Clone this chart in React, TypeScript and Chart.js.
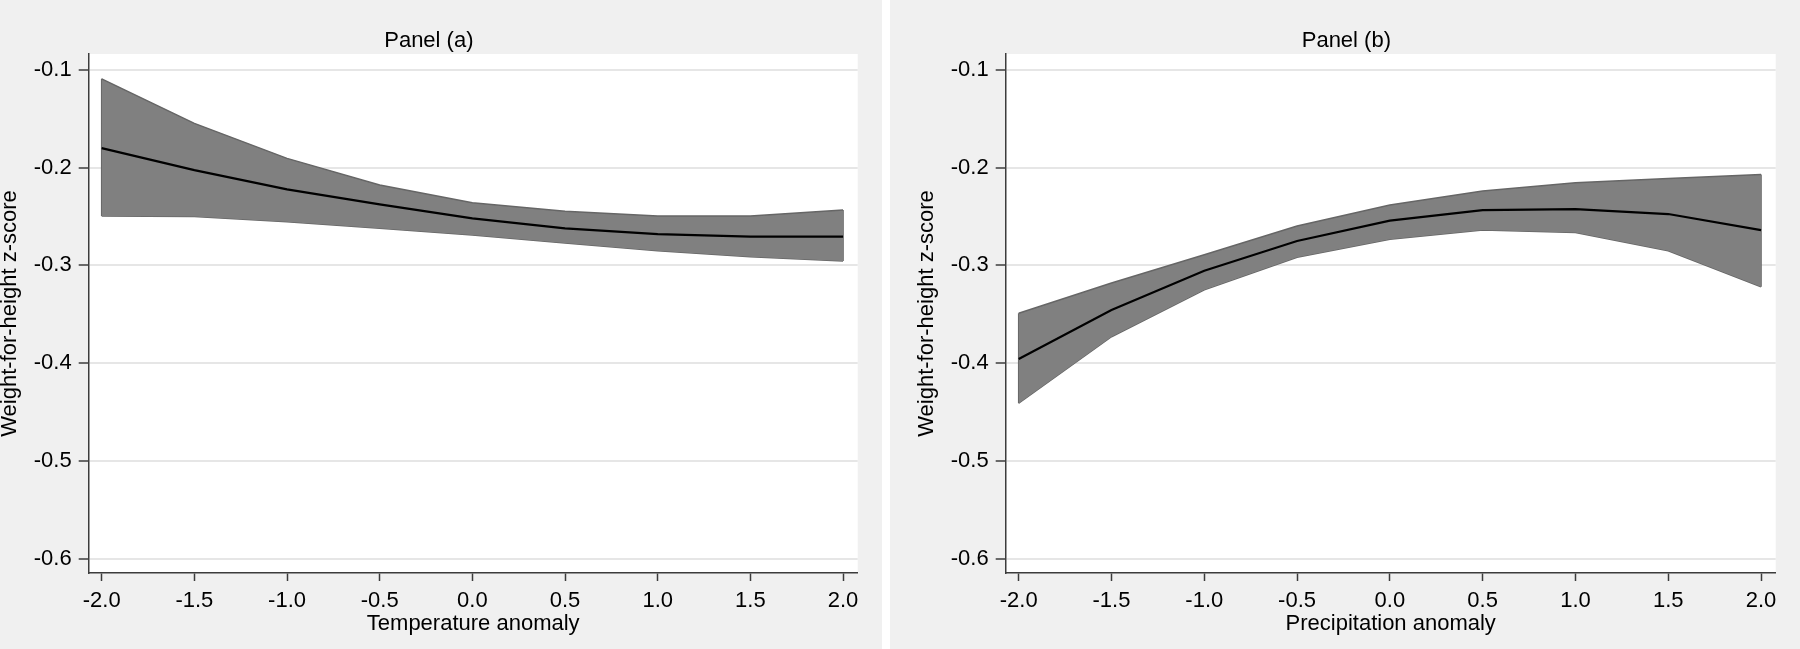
import React, { useEffect, useRef } from "react";
import { Chart, registerables } from "chart.js";
Chart.register(...registerables);

// x grid at which the fitted curves are evaluated
const xValues = [-2, -1.5, -1, -0.5, 0, 0.5, 1, 1.5, 2];

// Panel (a): temperature anomaly
const tempMean = [-0.18, -0.2024, -0.2221, -0.2375, -0.2518, -0.262, -0.268, -0.2706, -0.2706];
const tempUpper = [-0.109, -0.1546, -0.1904, -0.2177, -0.2358, -0.2445, -0.2494, -0.2494, -0.2433];
const tempLower = [-0.2494, -0.25, -0.2553, -0.262, -0.2689, -0.277, -0.285, -0.291, -0.2955];

// Panel (b): precipitation anomaly
const precMean = [-0.3958, -0.3456, -0.3054, -0.275, -0.2542, -0.2433, -0.2423, -0.2474, -0.2638];
const precUpper = [-0.349, -0.318, -0.289, -0.2597, -0.2382, -0.2238, -0.2153, -0.211, -0.207];
const precLower = [-0.441, -0.373, -0.325, -0.2917, -0.2733, -0.2638, -0.2662, -0.285, -0.3218];

const yTicks = [-0.6, -0.5, -0.4, -0.3, -0.2, -0.1];
const xTicks = [-2, -1.5, -1, -0.5, 0, 0.5, 1, 1.5, 2];

const titles = ["Panel (a)", "Panel (b)"];
const xTitles = ["Temperature anomaly", "Precipitation anomaly"];
const yTitle = "Weight-for-height z-score";

const FONT = "'Liberation Sans', Arial, Helvetica, sans-serif";
const BAND = "#808080";
const BAND_EDGE = "#666666";
const AXIS = "#3c3c3c";

const bgPlugin = {
  id: "panelBg",
  beforeDraw(chart: any) {
    const { ctx, width, height, chartArea } = chart;
    ctx.save();
    ctx.fillStyle = "#f0f0f0";
    ctx.fillRect(0, 0, width, height);
    ctx.fillStyle = "#ffffff";
    ctx.fillRect(chartArea.left, chartArea.top, chartArea.right - chartArea.left, chartArea.bottom - chartArea.top);
    ctx.restore();
  },
};

function pts(ys: number[]) {
  return xValues.map((x, i) => ({ x, y: ys[i] }));
}

function makeConfig(idx: number, mean: number[], upper: number[], lower: number[], padLeft: number) {
  const n = xValues.length - 1;
  return {
    type: "line" as const,
    data: {
      datasets: [
        {
          data: pts(mean),
          borderColor: "#000000",
          borderWidth: 2.2,
          pointRadius: 0,
          fill: false,
          order: 0,
        },
        {
          data: pts(upper),
          borderColor: BAND_EDGE,
          borderWidth: 1.5,
          backgroundColor: BAND,
          pointRadius: 0,
          fill: "+1",
          order: 1,
        },
        {
          data: pts(lower),
          borderColor: BAND_EDGE,
          borderWidth: 1.5,
          pointRadius: 0,
          fill: false,
          order: 1,
        },
        {
          data: [
            { x: xValues[0], y: lower[0] },
            { x: xValues[0], y: upper[0] },
          ],
          borderColor: BAND_EDGE,
          borderWidth: 1.5,
          pointRadius: 0,
          fill: false,
          order: 1,
        },
        {
          data: [
            { x: xValues[n], y: lower[n] },
            { x: xValues[n], y: upper[n] },
          ],
          borderColor: BAND_EDGE,
          borderWidth: 1.5,
          pointRadius: 0,
          fill: false,
          order: 1,
        },
      ],
    },
    options: {
      animation: false,
      responsive: false,
      devicePixelRatio: 1,
      layout: { padding: { left: padLeft, right: 24.3, top: 0, bottom: 0 } },
      plugins: {
        legend: { display: false },
        tooltip: { enabled: false },
        title: {
          display: true,
          text: titles[idx],
          color: "#000",
          font: { family: FONT, size: 22, weight: "normal", lineHeight: 1.0 },
          padding: { top: 30, bottom: 2 },
        },
      },
      elements: { line: { tension: 0 } },
      scales: {
        x: {
          type: "linear",
          min: -2.07,
          max: 2.079,
          afterBuildTicks: (s: any) => {
            s.ticks = xTicks.map((v) => ({ value: v }));
          },
          afterFit: (s: any) => {
            s.height = 76;
          },
          ticks: {
            callback: (v: any) => Number(v).toFixed(1),
            color: "#000",
            font: { family: FONT, size: 22 },
            padding: 7,
            maxRotation: 0,
            autoSkip: false,
          },
          grid: {
            drawOnChartArea: false,
            tickLength: 8,
            tickColor: AXIS,
            tickWidth: 1.5,
          },
          border: { display: true, color: AXIS, width: 1.5 },
          title: {
            display: true,
            text: xTitles[idx],
            color: "#000",
            font: { family: FONT, size: 22, lineHeight: 1.2 },
            padding: { top: 0, bottom: 11.5 },
          },
        },
        y: {
          type: "linear",
          min: -0.6148,
          max: -0.0836,
          afterBuildTicks: (s: any) => {
            s.ticks = yTicks.map((v) => ({ value: v }));
          },
          afterFit: (s: any) => {
            s.width = 88.7;
          },
          ticks: {
            callback: (v: any) => Number(v).toFixed(1),
            color: "#000",
            font: { family: FONT, size: 22 },
            padding: 7,
          },
          grid: {
            color: "#e6e6e6",
            lineWidth: 2,
            tickLength: 10,
            tickColor: AXIS,
            tickWidth: 1.5,
          },
          border: { display: true, color: AXIS, width: 1.5 },
          title: {
            display: true,
            text: yTitle,
            color: "#000",
            font: { family: FONT, size: 22, lineHeight: 0.9 },
            padding: { top: 0, bottom: 0 },
          },
        },
      },
    },
    plugins: [bgPlugin],
  };
}

function Panel(props: { idx: number; mean: number[]; upper: number[]; lower: number[]; left: number; width: number; padLeft: number }) {
  const ref = useRef<HTMLCanvasElement | null>(null);
  useEffect(() => {
    if (!ref.current) return;
    const chart = new Chart(ref.current, makeConfig(props.idx, props.mean, props.upper, props.lower, props.padLeft) as any);
    return () => chart.destroy();
  }, []);
  return (
    <canvas
      ref={ref}
      width={props.width}
      height={649}
      style={{ position: "absolute", left: props.left, top: 0, width: props.width, height: 649, display: "block" }}
    />
  );
}

export default function App() {
  return (
    <div style={{ position: "fixed", left: 0, top: 0, width: 1800, height: 649, background: "#ffffff", overflow: "hidden" }}>
      <Panel idx={0} mean={tempMean} upper={tempUpper} lower={tempLower} left={0} width={882} padLeft={0} />
      <Panel idx={1} mean={precMean} upper={precUpper} lower={precLower} left={890} width={910} padLeft={27} />
    </div>
  );
}
